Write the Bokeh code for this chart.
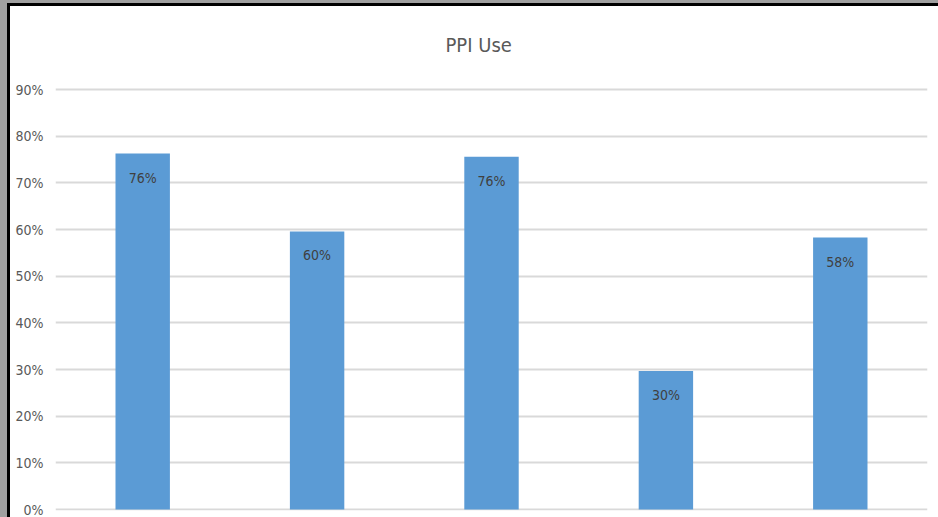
from bokeh.plotting import figure
from bokeh.models import ColumnDataSource, LabelSet, FactorRange, Range1d, NumeralTickFormatter, FixedTicker
from bokeh.core.properties import value
from bokeh.embed import file_html
from bokeh.resources import INLINE

categories = ["A", "B", "C", "D", "E"]
values = [0.763, 0.596, 0.756, 0.297, 0.583]
labels = ["76%", "60%", "76%", "30%", "58%"]
yticks = [0, 0.1, 0.2, 0.3, 0.4, 0.5, 0.6, 0.7, 0.8, 0.9]

FONT = "DejaVu Sans Condensed"

src = ColumnDataSource(dict(cat=categories, val=values, lab=labels))

p = figure(width=938, height=517, x_range=FactorRange(*categories), y_range=Range1d(-0.002, 0.9045),
           output_backend="svg", toolbar_location=None,
           min_border_left=55, min_border_right=11, min_border_top=86, min_border_bottom=7)
p.outline_line_color = None
p.background_fill_color = "white"
p.border_fill_color = None
p.styles = {"background-color": "white",
            "box-shadow": "inset 7px 3px 0 0 #a0a0a0, inset 10px 6px 0 0 #000000"}

p.vbar(x="cat", top="val", width=0.312, source=src, fill_color="#5b9bd5", line_color=None)

p.title.text = "PPI Use"
p.title.align = "left"
p.title.offset = 390
p.title.text_font = FONT
p.title.text_font_style = "normal"
p.title.text_font_size = "20px"
p.title.text_color = "#595959"
p.title.standoff = 61

p.xaxis.visible = False
p.xgrid.visible = False
p.yaxis.ticker = FixedTicker(ticks=yticks)
p.yaxis.formatter = NumeralTickFormatter(format="0%")
p.yaxis.axis_line_color = None
p.yaxis.major_tick_line_color = None
p.yaxis.minor_tick_line_color = None
p.yaxis.major_tick_out = 0
p.yaxis.major_tick_in = 0
p.yaxis.minor_tick_out = 0
p.yaxis.major_label_standoff = 12
p.yaxis.major_label_text_font = FONT
p.yaxis.major_label_text_font_size = "14px"
p.yaxis.major_label_text_color = "#595959"
p.ygrid.grid_line_color = "#d9d9d9"
p.ygrid.grid_line_width = 2

p.add_layout(LabelSet(x="cat", y="val", text="lab", source=src, y_offset=-24,
                      text_align="center", text_baseline="middle",
                      text_font=value(FONT), text_font_size="14px", text_color="#404040"))

open("out.html", "w").write(file_html(p, INLINE))
